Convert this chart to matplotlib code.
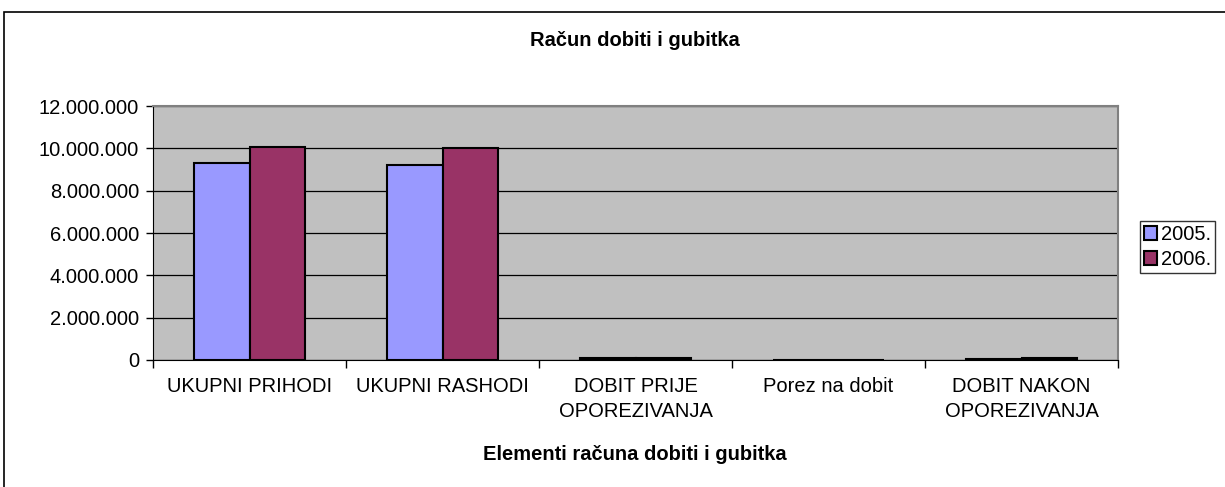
import numpy as np
import matplotlib.pyplot as plt
from matplotlib.patches import Rectangle
from matplotlib.ticker import FuncFormatter

plt.rcParams['font.family'] = ['Liberation Sans', 'DejaVu Sans']

categories = ['UKUPNI PRIHODI', 'UKUPNI RASHODI', 'DOBIT PRIJE\nOPOREZIVANJA',
              'Porez na dobit', 'DOBIT NAKON\nOPOREZIVANJA']
years = ['2005.', '2006.']
values_2005 = [9320000, 9230000, 90000, 18000, 70000]
values_2006 = [10080000, 10000000, 105000, 21000, 80000]
colors = ['#9999FF', '#993366']

fig = plt.figure(figsize=(12.25, 4.87), dpi=100)
ax = fig.add_axes([0.1249, 0.2608, 0.7878, 0.5215])

# outer chart border (open to the right/bottom like the source)
fig.patches.append(Rectangle((4 / 1225, -0.1), 1.2, 1 - 12 / 487 + 0.1,
                             transform=fig.transFigure, fill=False,
                             edgecolor='black', linewidth=1.2))

fs = 14.5
x = np.arange(len(categories))
w = 0.288
b1 = ax.bar(x - w / 2, values_2005, w, color=colors[0], edgecolor='black', linewidth=1.5,
            label=years[0], zorder=3)
b2 = ax.bar(x + w / 2, values_2006, w, color=colors[1], edgecolor='black', linewidth=1.5,
            label=years[1], zorder=3)

ax.set_facecolor('#C0C0C0')
ax.set_xlim(-0.5, len(categories) - 0.5)
ax.set_ylim(0, 12000000)
ax.set_yticks(np.arange(0, 12000001, 2000000))
ax.yaxis.set_major_formatter(FuncFormatter(lambda v, p: f'{int(v):,}'.replace(',', '.')))
ax.yaxis.grid(True, color='black', linewidth=0.9, zorder=1)
ax.set_axisbelow(True)

ax.set_xticks(x)
ax.set_xticklabels(categories, fontsize=fs, linespacing=1.45)
ax.set_xticks(np.arange(-0.5, len(categories), 1), minor=True)
ax.tick_params(axis='x', which='major', length=0, pad=12)
ax.tick_params(axis='x', which='minor', length=6, width=1, color='black')
ax.tick_params(axis='y', length=5, width=1, labelsize=fs, pad=5)

for s in ['top', 'right']:
    ax.spines[s].set_color('#808080')
    ax.spines[s].set_linewidth(1.5)
ax.spines['left'].set_color('black')
ax.spines['bottom'].set_color('black')

fig.text(0.5185, 1 - 40 / 487, 'Račun dobiti i gubitka', ha='center', va='center',
         fontsize=fs, fontweight='bold')
fig.text(0.5185, 1 - 454 / 487, 'Elementi računa dobiti i gubitka', ha='center', va='center',
         fontsize=fs, fontweight='bold')

leg = fig.legend(handles=[b1, b2], loc='upper left', bbox_to_anchor=(1140 / 1225, 1 - 221 / 487),
                 fontsize=fs, frameon=True, fancybox=False, edgecolor='black',
                 handlelength=0.65, handleheight=0.65, handletextpad=0.2,
                 borderpad=0.2, labelspacing=0.3, borderaxespad=0)
leg.get_frame().set_linewidth(1)

fig.savefig('out.png', dpi=100)
